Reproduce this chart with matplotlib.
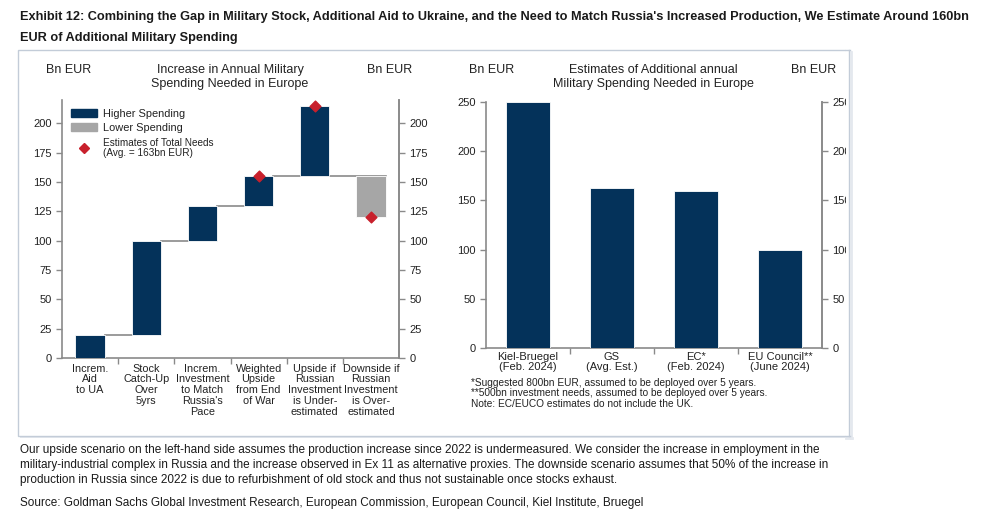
import numpy as np
import matplotlib.pyplot as plt
from matplotlib.patches import Patch, Rectangle
from matplotlib.lines import Line2D

# Left chart: waterfall steps (bn EUR)
left_cats = ["Increm.\nAid\nto UA", "Stock\nCatch-Up\nOver\n5yrs",
             "Increm.\nInvestment\nto Match\nRussia's\nPace",
             "Weighted\nUpside\nfrom End\nof War",
             "Upside if\nRussian\nInvestment\nis Under-\nestimated",
             "Downside if\nRussian\nInvestment\nis Over-\nestimated"]
left_bottom = [0, 20, 100, 130, 155, 120]
left_top = [20, 100, 130, 155, 215, 155]
left_higher = [True, True, True, True, True, False]
est_idx = [3, 4, 5]
est_vals = [155, 215, 120]

# Right chart: estimates
right_cats = ["Kiel-Bruegel\n(Feb. 2024)", "GS\n(Avg. Est.)", "EC*\n(Feb. 2024)", "EU Council**\n(June 2024)"]
right_vals = [250, 163, 160, 100]

NAVY = "#04325a"
GRAY = "#a6a6a6"
RED = "#c8202c"
SPINE = "#8a8a8a"
TXT = "#222222"
FRAME = "#c3ccd8"
SHADOW = "#e4e8ee"

plt.rcParams['font.family'] = ['Liberation Sans', 'DejaVu Sans']

fig = plt.figure(figsize=(9.87, 5.21), dpi=100)
W, H = 987, 521

def fx(px):
    return px / W

def fy(py):
    return 1 - py / H

# frame box around charts (soft shadow + border)
fig.patches.append(Rectangle((fx(20), fy(438)), fx(831), 386 / H, transform=fig.transFigure,
                             facecolor=SHADOW, edgecolor="none", zorder=0.1))
fig.patches.append(Rectangle((fx(18), fy(436)), fx(831.5), 386 / H, transform=fig.transFigure,
                             facecolor="white", edgecolor=FRAME, lw=1, zorder=0.2))


def style_axes(ax, ax2):
    for a in (ax, ax2):
        a.set_facecolor("none")
        a.spines["top"].set_visible(False)
        for s in ["left", "right", "bottom"]:
            a.spines[s].set_color(SPINE)
            a.spines[s].set_linewidth(1.2)
    ax2.spines["left"].set_visible(False)
    ax2.spines["bottom"].set_visible(False)
    ax.tick_params(axis="y", colors=SPINE, labelcolor=TXT, labelsize=8, length=4, width=1)
    ax2.tick_params(axis="y", colors=SPINE, labelcolor=TXT, labelsize=8, length=4, width=1)


# ---------- left chart ----------
axL = fig.add_axes([fx(62), fy(358), fx(399 - 62), (358 - 100) / H])
axL.set_zorder(1)
x = np.arange(len(left_cats)) + 0.5
bw = 0.52
for i in range(len(left_cats)):
    c = NAVY if left_higher[i] else GRAY
    axL.bar(x[i], left_top[i] - left_bottom[i], bottom=left_bottom[i], width=bw,
            color=c, edgecolor="white", linewidth=0.6, zorder=3)
# connectors
for i in range(3):
    axL.plot([x[i] + bw / 2, x[i + 1] - bw / 2], [left_top[i], left_top[i]],
             color=SPINE, lw=1.2, zorder=2)
axL.plot([x[3] + bw / 2, x[5] + bw / 2], [left_top[3], left_top[3]], color=SPINE, lw=1.2, zorder=2)
axL.scatter([x[i] for i in est_idx], est_vals, marker="D", s=30, color=RED, zorder=5)
axL.set_xlim(0, len(left_cats))
axL.set_ylim(0, 220)
axL.set_yticks(np.arange(0, 201, 25))
axL.set_xticks(x)
axL.set_xticklabels(left_cats, fontsize=7.8, color=TXT, linespacing=1.1)
axL.set_xticks(np.arange(1, len(left_cats)), minor=True)
axL.tick_params(axis="x", which="major", length=0, pad=4)
axL.tick_params(axis="x", which="minor", length=4, color=SPINE, width=1)
axL2 = axL.twinx()
axL2.set_ylim(0, 220)
axL2.set_yticks(np.arange(0, 201, 25))
style_axes(axL, axL2)

handles = [Patch(color=NAVY), Patch(color=GRAY),
           Line2D([], [], marker="D", color=RED, ls="none", markersize=5.5)]
leg = axL.legend(handles, ["Higher Spending", "Lower Spending",
                           "Estimates of Total Needs\n(Avg. = 163bn EUR)"],
                 loc="upper left", bbox_to_anchor=(0.0, 1.0), frameon=False,
                 fontsize=7.9, handlelength=2.4, handleheight=0.75, labelspacing=0.4,
                 handletextpad=0.55, borderaxespad=0.4)
leg.get_texts()[2].set_fontsize(7.2)
leg.get_texts()[2].set_linespacing(1.0)
for t in leg.get_texts():
    t.set_color(TXT)

fig.text(fx(69), fy(70), "Bn EUR", ha="center", va="center", fontsize=9, color=TXT)
fig.text(fx(390), fy(70), "Bn EUR", ha="center", va="center", fontsize=9, color=TXT)
fig.text(fx(230), fy(77), "Increase in Annual Military\nSpending Needed in Europe",
         ha="center", va="center", fontsize=9, color=TXT, linespacing=1.15)

# ---------- right chart ----------
axR = fig.add_axes([fx(486), fy(348), fx(822 - 486), (348 - 102) / H])
axR.set_zorder(1)
xr = np.arange(len(right_cats)) + 0.5
axR.bar(xr, right_vals, width=0.53, color=NAVY, edgecolor="white", linewidth=0.6, zorder=3)
axR.set_xlim(0, len(right_cats))
axR.set_ylim(0, 250)
axR.set_yticks(np.arange(0, 251, 50))
axR.set_xticks(xr)
axR.set_xticklabels(right_cats, fontsize=8, color=TXT, linespacing=1.0)
axR.set_xticks(np.arange(1, len(right_cats)), minor=True)
axR.tick_params(axis="x", which="major", length=0, pad=3)
axR.tick_params(axis="x", which="minor", length=4, color=SPINE, width=1)
axR2 = axR.twinx()
axR2.set_ylim(0, 250)
axR2.set_yticks(np.arange(0, 251, 50))
style_axes(axR, axR2)
axR2.set_zorder(1)

fig.text(fx(492), fy(70), "Bn EUR", ha="center", va="center", fontsize=9, color=TXT)
fig.text(fx(814), fy(70), "Bn EUR", ha="center", va="center", fontsize=9, color=TXT)
fig.text(fx(653), fy(77), "Estimates of Additional annual\nMilitary Spending Needed in Europe",
         ha="center", va="center", fontsize=9, color=TXT, linespacing=1.15)

notes = ["*Suggested 800bn EUR, assumed to be deployed over 5 years.",
         "**500bn investment needs, assumed to be deployed over 5 years.",
         "Note: EC/EUCO estimates do not include the UK."]
for k, n in enumerate(notes):
    fig.text(fx(471), fy(383 + k * 10.5), n, ha="left", va="center", fontsize=7.25, color=TXT)

# clip right tick labels just inside the frame edge (above axes, below texts)
fig.patches.append(Rectangle((fx(846.5), fy(437)), 1, 388 / H, transform=fig.transFigure,
                             facecolor="white", edgecolor="none", zorder=2))
fig.add_artist(Line2D([fx(849.5), fx(849.5)], [fy(436), fy(50)], color=FRAME, lw=1, zorder=2.1))
fig.add_artist(Line2D([fx(851.5), fx(851.5)], [fy(438), fy(52)], color=SHADOW, lw=2, zorder=2.1))
fig.add_artist(Line2D([fx(846), fx(850)], [fy(50), fy(50)], color=FRAME, lw=1, zorder=2.1))
fig.add_artist(Line2D([fx(846), fx(850)], [fy(436), fy(436)], color=FRAME, lw=1, zorder=2.1))
fig.add_artist(Line2D([fx(846), fx(852)], [fy(437.5), fy(437.5)], color=SHADOW, lw=2, zorder=2.05))

# ---------- title and captions ----------
renderer = fig.canvas.get_renderer()


def fit_text(px_x, px_y, s, target_w, size, **kw):
    t = fig.text(fx(px_x), fy(px_y), s, ha="left", va="center", fontsize=size, **kw)
    w = t.get_window_extent(renderer).width
    t.set_fontsize(size * target_w / w)
    return t.get_fontsize()


ts = fit_text(20, 17, "Exhibit 12: Combining the Gap in Military Stock, Additional Aid to Ukraine, and the Need to Match Russia's Increased Production, We Estimate Around 160bn",
              955, 10.5, fontweight="bold", color="#1a1a1a")
fig.text(fx(20), fy(38), "EUR of Additional Military Spending",
         ha="left", va="center", fontsize=ts, fontweight="bold", color="#1a1a1a")

caption = ["Our upside scenario on the left-hand side assumes the production increase since 2022 is undermeasured. We consider the increase in employment in the",
           "military-industrial complex in Russia and the increase observed in Ex 11 as alternative proxies. The downside scenario assumes that 50% of the increase in",
           "production in Russia since 2022 is due to refurbishment of old stock and thus not sustainable once stocks exhaust."]
cs = fit_text(20, 450, caption[0], 803, 9, color="#1a1a1a")
for k, c in enumerate(caption[1:]):
    fig.text(fx(20), fy(465 + k * 15), c, ha="left", va="center", fontsize=cs, color="#1a1a1a")
fig.text(fx(20), fy(503), "Source: Goldman Sachs Global Investment Research, European Commission, European Council, Kiel Institute, Bruegel",
         ha="left", va="center", fontsize=cs, color="#1a1a1a")

fig.savefig("out.png", dpi=100)
